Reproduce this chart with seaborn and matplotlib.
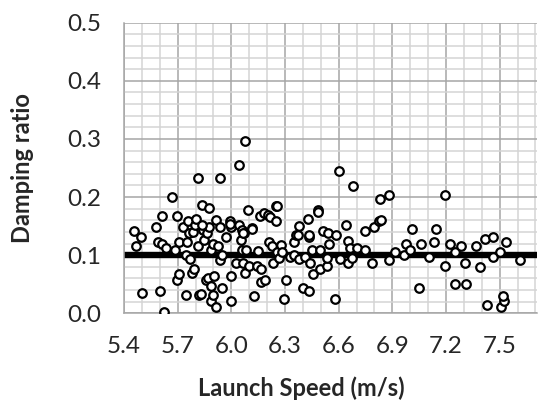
import numpy as np
import pandas as pd
import matplotlib.pyplot as plt
from matplotlib.ticker import MultipleLocator
import seaborn as sns

launch_speed = [
    5.456, 5.469, 5.493, 5.503, 5.578, 5.589, 5.600, 5.613, 5.613, 5.626,
    5.637, 5.671, 5.686, 5.697, 5.697, 5.708, 5.708, 5.731, 5.744, 5.746,
    5.751, 5.755, 5.763, 5.768, 5.781, 5.783, 5.792, 5.796, 5.805, 5.815,
    5.815, 5.817, 5.830, 5.837, 5.839, 5.846, 5.861, 5.865, 5.871, 5.875,
    5.876, 5.884, 5.884, 5.889, 5.895, 5.899, 5.902, 5.912, 5.912, 5.923,
    5.936, 5.936, 5.936, 5.946, 5.949, 5.970, 5.994, 5.996, 5.996, 5.996,
    6.026, 6.042, 6.044, 6.052, 6.058, 6.058, 6.067, 6.071, 6.076, 6.076,
    6.080, 6.093, 6.101, 6.116, 6.125, 6.142, 6.151, 6.160, 6.164, 6.164,
    6.183, 6.188, 6.207, 6.211, 6.216, 6.226, 6.235, 6.248, 6.248, 6.258,
    6.254, 6.267, 6.276, 6.285, 6.303, 6.296, 6.329, 6.351, 6.353, 6.360,
    6.370, 6.377, 6.379, 6.403, 6.413, 6.426, 6.432, 6.435, 6.437, 6.441,
    6.450, 6.459, 6.485, 6.487, 6.497, 6.497, 6.515, 6.534, 6.536, 6.538,
    6.547, 6.581, 6.585, 6.603, 6.605, 6.640, 6.650, 6.652, 6.665, 6.674,
    6.678, 6.702, 6.747, 6.749, 6.786, 6.799, 6.824, 6.833, 6.837, 6.880,
    6.881, 6.917, 6.964, 6.975, 7.001, 7.010, 7.048, 7.059, 7.107, 7.132,
    7.143, 7.192, 7.192, 7.225, 7.249, 7.249, 7.285, 7.309, 7.311, 7.369,
    7.393, 7.417, 7.427, 7.464, 7.464, 7.502, 7.505, 7.524, 7.517, 7.537,
    7.612, 5.835, 5.993, 6.068, 6.115,
]
damping_ratio = [
    0.142, 0.116, 0.131, 0.035, 0.149, 0.123, 0.039, 0.167, 0.119, 0.002,
    0.112, 0.200, 0.109, 0.167, 0.057, 0.123, 0.068, 0.149, 0.100, 0.032,
    0.123, 0.159, 0.138, 0.093, 0.069, 0.140, 0.077, 0.152, 0.163, 0.233,
    0.115, 0.032, 0.034, 0.186, 0.143, 0.126, 0.057, 0.138, 0.060, 0.182,
    0.149, 0.109, 0.047, 0.021, 0.119, 0.032, 0.064, 0.161, 0.010, 0.116,
    0.233, 0.149, 0.092, 0.100, 0.043, 0.131, 0.158, 0.149, 0.065, 0.021,
    0.086, 0.255, 0.152, 0.126, 0.143, 0.109, 0.086, 0.138, 0.296, 0.070,
    0.109, 0.178, 0.081, 0.146, 0.029, 0.081, 0.108, 0.167, 0.076, 0.053,
    0.172, 0.057, 0.169, 0.123, 0.166, 0.116, 0.086, 0.185, 0.159, 0.185,
    0.106, 0.095, 0.118, 0.105, 0.057, 0.025, 0.097, 0.100, 0.123, 0.135,
    0.134, 0.151, 0.093, 0.043, 0.097, 0.163, 0.131, 0.135, 0.039, 0.086,
    0.109, 0.068, 0.178, 0.175, 0.109, 0.076, 0.142, 0.082, 0.095, 0.139,
    0.119, 0.025, 0.134, 0.244, 0.093, 0.152, 0.124, 0.086, 0.112, 0.095,
    0.219, 0.112, 0.142, 0.109, 0.086, 0.149, 0.159, 0.197, 0.161, 0.204,
    0.091, 0.105, 0.100, 0.119, 0.109, 0.145, 0.043, 0.119, 0.097, 0.123,
    0.145, 0.204, 0.082, 0.119, 0.106, 0.050, 0.115, 0.086, 0.050, 0.116,
    0.080, 0.127, 0.014, 0.097, 0.131, 0.106, 0.011, 0.022, 0.030, 0.123,
    0.091, 0.152, 0.154, 0.139, 0.145,
]
mean_ratio = 0.1

df = pd.DataFrame({'Launch Speed (m/s)': launch_speed, 'Damping ratio': damping_ratio})

sns.set_style('white')
plt.rcParams['font.family'] = ['Lato', 'DejaVu Sans']

fig = plt.figure(figsize=(5.38, 4.03), dpi=100)
ax = fig.add_axes([0.2305, 0.2226, 0.768, 0.7211])

major_c = '#a6a6a6'
minor_c = '#d4d4d4'

ax.set_xlim(5.4, 7.71)
ax.set_ylim(0, 0.5)
ax.xaxis.set_major_locator(MultipleLocator(0.3))
ax.xaxis.set_minor_locator(MultipleLocator(0.1))
ax.yaxis.set_major_locator(MultipleLocator(0.1))
ax.yaxis.set_minor_locator(MultipleLocator(0.02))
ax.grid(which='minor', color=minor_c, linewidth=1.1, zorder=0)
ax.grid(which='major', color=major_c, linewidth=1.1, zorder=0)
ax.set_axisbelow(True)

ax.axhline(mean_ratio, color='black', linewidth=4.6, zorder=2)

sns.scatterplot(data=df, x='Launch Speed (m/s)', y='Damping ratio', ax=ax,
                marker='o', s=38, facecolor='white', edgecolor='black',
                linewidth=1.6, zorder=3)

for side in ['top', 'right']:
    ax.spines[side].set_visible(False)
for side in ['left', 'bottom']:
    ax.spines[side].set_color(major_c)
    ax.spines[side].set_linewidth(1.1)

ax.tick_params(which='major', direction='out', length=6.5, width=1.1,
               color=major_c, labelsize=17.5, pad=10)
ax.tick_params(which='minor', length=0)
ax.set_xticks(np.arange(5.4, 7.6, 0.3))
ax.set_xticklabels([f'{v:.1f}' for v in np.arange(5.4, 7.6, 0.3)])
ax.set_yticklabels([f'{v:.1f}' for v in ax.get_yticks()])

ax.set_xlabel('Launch Speed (m/s)', fontsize=17, fontweight='bold')
ax.set_ylabel('Damping ratio', fontsize=17, fontweight='bold')
ax.xaxis.set_label_coords(0.43, -0.257)
ax.yaxis.set_label_coords(-0.245, 0.5)
ax.xaxis.label.set_va('center')
ax.yaxis.label.set_va('center')

fig.savefig('out.png', dpi=100)
